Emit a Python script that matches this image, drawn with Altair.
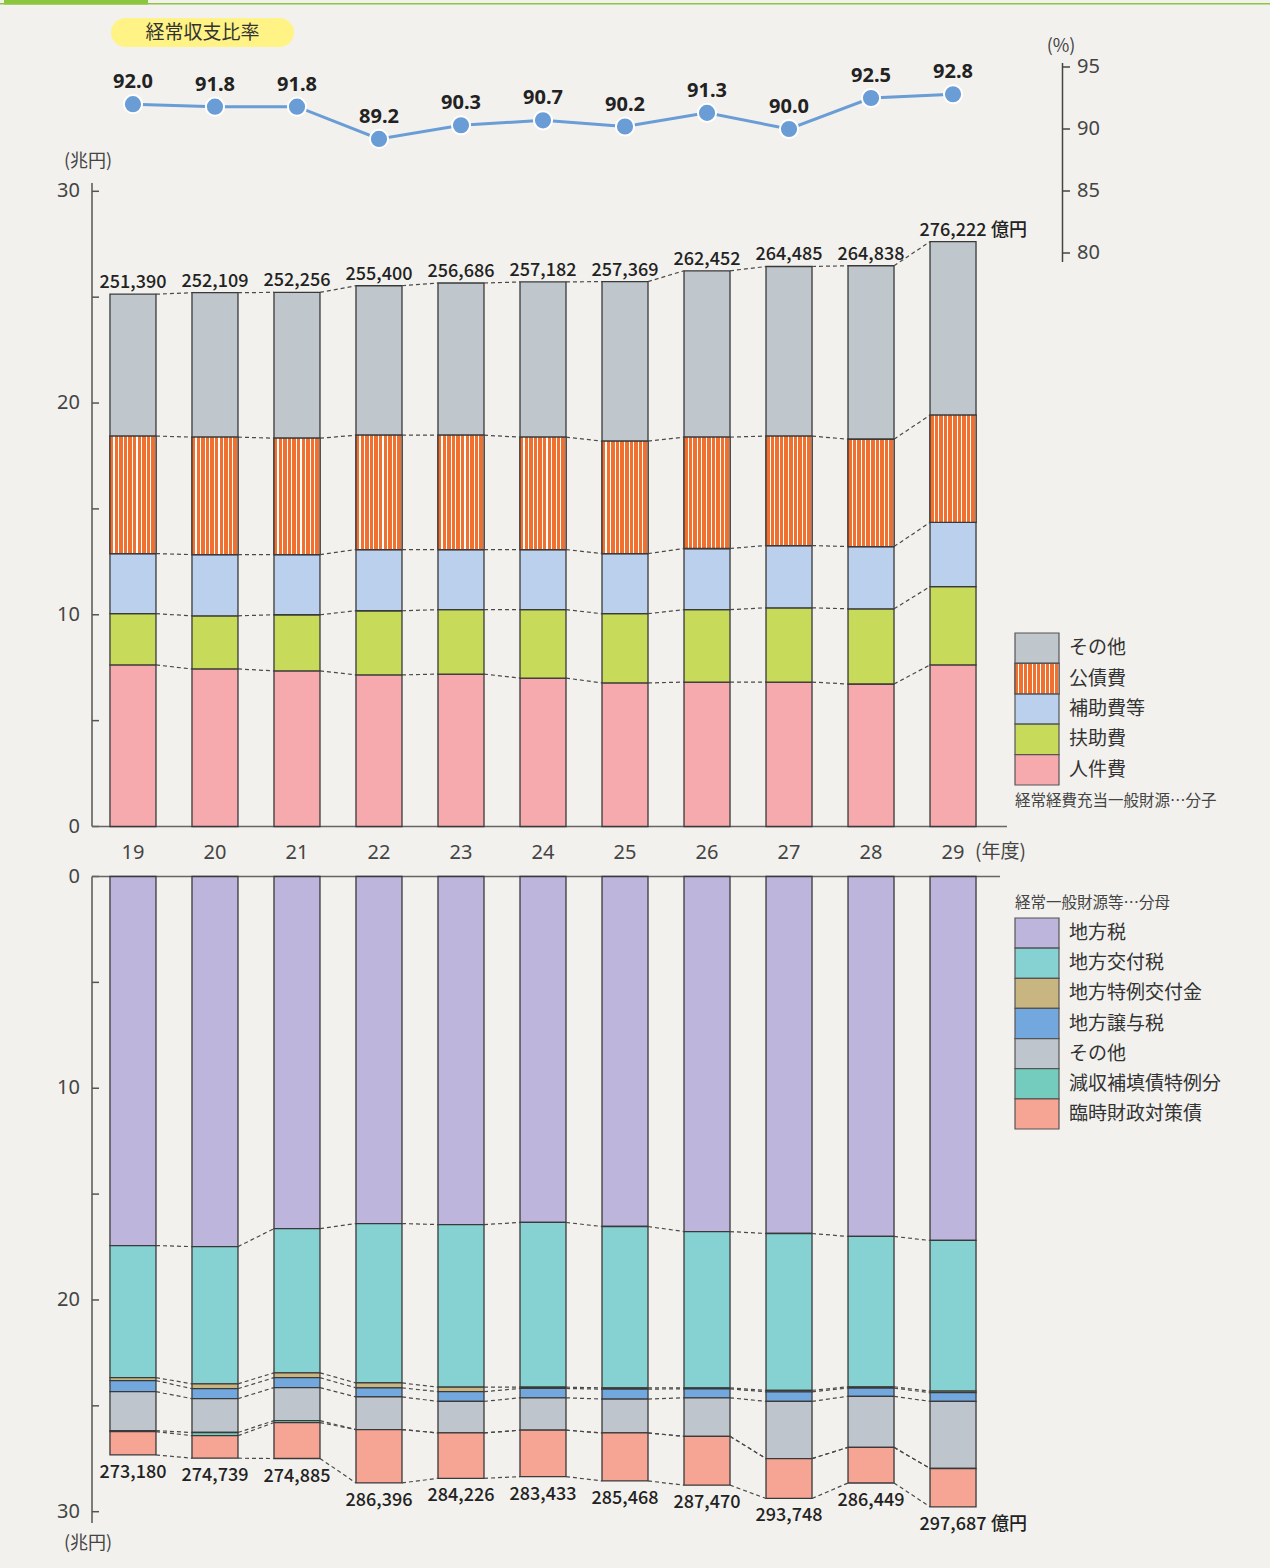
import altair as alt
import pandas as pd

# ---------------- data ----------------
years = ["19", "20", "21", "22", "23", "24", "25", "26", "27", "28", "29"]

# 経常収支比率 (%)
ratio = [92.0, 91.8, 91.8, 89.2, 90.3, 90.7, 90.2, 91.3, 90.0, 92.5, 92.8]

# 分子: 経常経費充当一般財源  (totals in 億円, components in 兆円)
num_total = [251390, 252109, 252256, 255400, 256686, 257182, 257369, 262452, 264485, 264838, 276222]
jinkenhi = [7.63, 7.44, 7.35, 7.16, 7.20, 7.01, 6.78, 6.82, 6.82, 6.73, 7.63]
fujohi = [2.42, 2.51, 2.65, 3.03, 3.04, 3.23, 3.27, 3.42, 3.51, 3.55, 3.70]
hojohi = [2.84, 2.89, 2.84, 2.89, 2.84, 2.84, 2.84, 2.89, 2.94, 2.94, 3.03]
kosaihi = [5.55, 5.55, 5.50, 5.40, 5.40, 5.31, 5.31, 5.26, 5.17, 5.07, 5.07]

# 分母: 経常一般財源等  (totals in 億円, components in 兆円)
den_total = [273180, 274739, 274885, 286396, 284226, 283433, 285468, 287470, 293748, 286449, 297687]
chihozei = [17.43, 17.48, 16.63, 16.39, 16.44, 16.34, 16.53, 16.77, 16.86, 17.00, 17.19]
kofuzei = [6.24, 6.48, 6.81, 7.53, 7.68, 7.78, 7.62, 7.38, 7.41, 7.10, 7.12]
tokurei = [0.14, 0.23, 0.23, 0.23, 0.21, 0.06, 0.06, 0.05, 0.07, 0.06, 0.07]
joyozei = [0.52, 0.47, 0.47, 0.43, 0.46, 0.44, 0.47, 0.42, 0.45, 0.39, 0.41]
den_sonota = [1.84, 1.60, 1.56, 1.54, 1.49, 1.53, 1.60, 1.82, 2.70, 2.41, 3.17]
genshu = [0.05, 0.15, 0.09, 0, 0, 0, 0, 0, 0, 0, 0]

num_cats = ["人件費", "扶助費", "補助費等", "公債費", "その他"]
num_fill = ["#F6AAAE", "#C8DA5A", "#BAD0EC", "#F0712F", "#BFC6CC"]
den_cats = ["地方税", "地方交付税", "地方特例交付金", "地方譲与税", "その他", "減収補填債特例分", "臨時財政対策債"]
den_fill = ["#BDB5DC", "#86D2D3", "#C9B57F", "#72A8DE", "#BEC5CC", "#74CCBE", "#F6A494"]

axis_ticks = [0, 5, 10, 15, 20, 25, 30]
axis_labels = [0, 10, 20, 30]
pct_ticks = [80, 85, 90, 95]

# ---------------- styling ----------------
LEFT = 93          # page x of the plot origin
W, H = 900, 1568
BG = "#F2F1ED"
EDGE = "#3a3a3a"
BLUE = "#6A9CD5"
JP = "Noto Sans CJK JP"
NUM = "Noto Sans"


def px(x):
    return x - LEFT


def stripes(base, light, n, frac):
    stops = []
    for k in range(n):
        a, b, c = k / n, (k + 1 - frac) / n, (k + 1) / n
        stops += [alt.GradientStop(offset=a, color=base), alt.GradientStop(offset=b, color=base),
                  alt.GradientStop(offset=b, color=light), alt.GradientStop(offset=c, color=light)]
    return alt.LinearGradient(gradient="linear", stops=stops, x1=0, x2=1, y1=0, y2=0)


KOSAI_FILL = stripes("#F0712F", "#FFFFFF", 10, 0.24)


def build_stack(parts, totals, cats, fills):
    rows, bounds = [], []
    for i, y in enumerate(years):
        t = totals[i] / 10000
        vals = [p[i] for p in parts]
        vals.append(t - sum(vals))
        lo = 0.0
        hb = []
        for c, f, v in zip(cats, fills, vals):
            hi = lo + v
            if v > 0:
                rows.append({"year": y, "cat": c, "lo": lo, "hi": hi, "fill": f})
            hb.append(hi)
            lo = hi
        bounds.append(hb)
    conn = []
    for i in range(len(years) - 1):
        for k in range(len(cats)):
            conn.append({"xa": years[i], "xb": years[i + 1], "ya": bounds[i][k], "yb": bounds[i + 1][k]})
    tot = pd.DataFrame({"year": years, "t": [v / 10000 for v in totals],
                        "label": [f"{v:,}" for v in totals]})
    return pd.DataFrame(rows), pd.DataFrame(conn), tot


num_df, num_conn, num_tot = build_stack([jinkenhi, fujohi, hojohi, kosaihi], num_total, num_cats, num_fill)
den_df, den_conn, den_tot = build_stack([chihozei, kofuzei, tokurei, joyozei, den_sonota, genshu],
                                        den_total, den_cats, den_fill)

# ---------------- scales ----------------
x_scale = alt.Scale(type="band", domain=years, paddingInner=0.439, paddingOuter=0.207)
X = alt.X("year:O", scale=x_scale, axis=None)
mid_y = alt.Scale(domain=[0, 30], range=[826.5, 191.3], nice=False, zero=False)
bot_y = alt.Scale(domain=[0, 30], range=[876.5, 1511.7], nice=False, zero=False)
pct_y = alt.Scale(domain=[80, 95], range=[253, 67], nice=False, zero=False)

one = pd.DataFrame({"k": [0]})


def text_at(txt, x, y, size, color="#333", font=JP, align="center", weight="normal"):
    return alt.Chart(one).mark_text(text=txt, align=align, baseline="middle", fontSize=size,
                                    color=color, font=font, fontWeight=weight).encode(
        x=alt.value(px(x)), y=alt.value(y))


def rect_at(x1, x2, y1, y2, fill, **kw):
    return alt.Chart(one).mark_rect(fill=fill, **kw).encode(
        x=alt.value(px(x1)), x2=alt.value(px(x2)), y=alt.value(y1), y2=alt.value(y2))


def vline(x, y1, y2, color="#555", width=1.5):
    return alt.Chart(one).mark_rule(color=color, strokeWidth=width).encode(
        x=alt.value(px(x)), y=alt.value(y1), y2=alt.value(y2))


def hline(x1, x2, y, color="#666", width=1.5):
    return alt.Chart(one).mark_rule(color=color, strokeWidth=width).encode(
        x=alt.value(px(x1)), x2=alt.value(px(x2)), y=alt.value(y))


def y_axis(scale, x_line, y1, y2):
    ticks = alt.Chart(pd.DataFrame({"v": axis_ticks})).mark_rule(color="#555", strokeWidth=1.5).encode(
        x=alt.value(px(x_line)), x2=alt.value(px(x_line + 7)),
        y=alt.Y("v:Q", scale=scale, axis=None))
    labels = alt.Chart(pd.DataFrame({"v": axis_labels})).mark_text(
        align="right", baseline="middle", fontSize=20, color="#444", font=NUM).encode(
        x=alt.value(px(80)), y=alt.Y("v:Q", scale=scale, axis=None), text="v:Q")
    return [vline(x_line, y1, y2), ticks, labels]


def stacked(df, conn, tot, scale, label_dy, unit_dx):
    Y = alt.Y("lo:Q", scale=scale, axis=None)
    bars = alt.Chart(df).mark_bar(stroke=EDGE, strokeWidth=1.3).encode(
        x=X, y=Y, y2="hi", color=alt.Color("fill:N", scale=None))
    lines = alt.Chart(conn).mark_rule(strokeDash=[4, 3], color="#4a4a4a", strokeWidth=1.2).encode(
        x=alt.X("xa:O", scale=x_scale, axis=None, bandPosition=1),
        x2=alt.X2("xb", bandPosition=0),
        y=alt.Y("ya:Q", scale=scale, axis=None), y2="yb")
    labels = alt.Chart(tot).mark_text(font=JP, fontSize=18, fontWeight=500, color="#222",
                                      baseline="alphabetic", dy=label_dy).encode(
        x=X, y=alt.Y("t:Q", scale=scale, axis=None), text="label:N")
    unit = alt.Chart(tot.tail(1)).mark_text(text="億円", font=JP, fontSize=18, fontWeight=500, color="#222",
                                            align="left", baseline="alphabetic", dx=unit_dx, dy=label_dy).encode(
        x=X, y=alt.Y("t:Q", scale=scale, axis=None))
    return [bars, lines, labels, unit]


def legend(cats, fills, y_range, caption, cap_y):
    ldf = pd.DataFrame({"cat": cats, "fill": fills})
    LY = alt.Y("cat:N", scale=alt.Scale(type="band", domain=cats, range=y_range,
                                         paddingInner=0, paddingOuter=0), axis=None)
    boxes = alt.Chart(ldf).mark_rect(stroke="#555", strokeWidth=1.2).encode(
        x=alt.value(px(1015)), x2=alt.value(px(1059)), y=LY, color=alt.Color("fill:N", scale=None))
    names = alt.Chart(ldf).mark_text(align="left", baseline="middle", fontSize=19, color="#333", font=JP).encode(
        x=alt.value(px(1069)), y=LY, text="cat:N")
    out = [boxes, names, text_at(caption, 1015, cap_y, 15.5, "#444", align="left")]
    if "公債費" in cats:
        out.insert(1, alt.Chart(ldf[ldf.cat == "公債費"]).mark_rect(
            fill=KOSAI_FILL, stroke="#555", strokeWidth=1.2).encode(
            x=alt.value(px(1015)), x2=alt.value(px(1059)), y=LY))
    return out


# ---------------- layers ----------------
layers = []

# header band and title pill
layers += [rect_at(0, 1270, 3, 4.5, "#8CC63F"), rect_at(4, 148, 0, 4.5, "#8CC63F")]
layers += [rect_at(111, 294, 18, 47, "#FFF385", cornerRadius=14.5),
           text_at("経常収支比率", 202.5, 33, 19, "#333")]

# ratio axis on the right
pdf = pd.DataFrame({"v": pct_ticks})
layers += [
    text_at("(%)", 1061, 47, 18, "#444"),
    vline(1062.5, 63, 262, "#444"),
    alt.Chart(pdf).mark_rule(color="#444", strokeWidth=1.5).encode(
        x=alt.value(px(1062.5)), x2=alt.value(px(1070)), y=alt.Y("v:Q", scale=pct_y, axis=None)),
    alt.Chart(pdf).mark_text(align="left", baseline="middle", fontSize=20, color="#444", font=NUM).encode(
        x=alt.value(px(1077)), y=alt.Y("v:Q", scale=pct_y, axis=None), text="v:Q"),
]

# ratio line
rdf = pd.DataFrame({"year": years, "ratio": ratio})
RY = alt.Y("ratio:Q", scale=pct_y, axis=None)
layers += [
    alt.Chart(rdf).mark_line(color=BLUE, strokeWidth=3).encode(x=X, y=RY),
    alt.Chart(rdf).mark_circle(size=330, color=BLUE, opacity=1, stroke="white", strokeWidth=2).encode(x=X, y=RY),
    alt.Chart(rdf).mark_text(dy=-22, fontSize=20, fontWeight="bold", font=NUM, color="#222").encode(
        x=X, y=RY, text=alt.Text("ratio:Q", format=".1f")),
]

# numerator chart
layers += [text_at("(兆円)", 88, 162, 18, "#444")]
layers += y_axis(mid_y, 92, 183, 826.5)
layers += [hline(92, 1007, 826.5)]
layers += stacked(num_df, num_conn, num_tot, mid_y, -6, 38)
layers.insert(len(layers) - 3, alt.Chart(num_df[num_df.cat == "公債費"]).mark_bar(
    fill=KOSAI_FILL, stroke=EDGE, strokeWidth=1.3).encode(
    x=X, y=alt.Y("lo:Q", scale=mid_y, axis=None), y2="hi"))

# year labels
layers += [
    alt.Chart(pd.DataFrame({"year": years})).mark_text(fontSize=20, color="#444", font=NUM).encode(
        x=X, y=alt.value(853), text="year:N"),
    text_at("(年度)", 975, 852, 19, "#444", align="left"),
]

# denominator chart
layers += [text_at("(兆円)", 88, 1544, 18, "#444")]
layers += y_axis(bot_y, 92, 876.5, 1523)
layers += [hline(92, 1000, 876.5)]
layers += stacked(den_df, den_conn, den_tot, bot_y, 23, 38)

# legends
layers += legend(["その他", "公債費", "補助費等", "扶助費", "人件費"],
                 ["#BFC6CC", "#F0712F", "#BAD0EC", "#C8DA5A", "#F6AAAE"],
                 [633, 785], "経常経費充当一般財源…分子", 801)
layers += legend(den_cats, den_fill, [918, 1129], "経常一般財源等…分母", 903)

chart = alt.layer(*layers).resolve_scale(y="independent").properties(
    width=W, height=H,
    autosize=alt.AutoSizeParams(type="none"),
    padding={"left": LEFT, "right": 1270 - LEFT - W, "top": 0, "bottom": 0},
    background=BG,
).configure_view(stroke=None)

chart.save("out.html", embed_options={"renderer": "svg", "actions": False})
